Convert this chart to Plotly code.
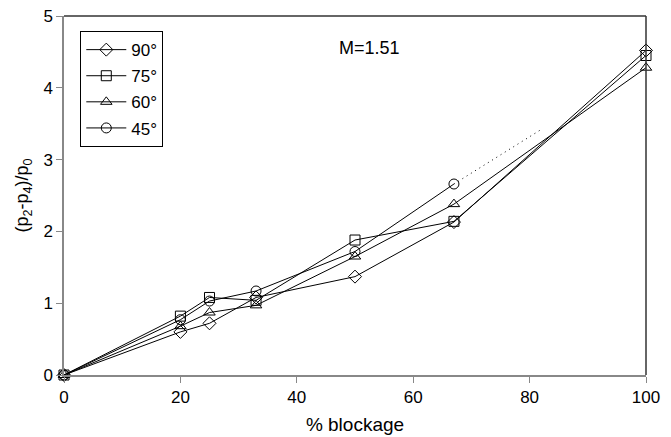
import plotly.graph_objects as go

blockage = [0, 20, 25, 33, 50, 67, 100]
s90 = [0, 0.60, 0.72, 1.08, 1.37, 2.13, 4.52]
s75 = [0, 0.82, 1.08, 1.04, 1.88, 2.14, 4.45]
s60 = [0, 0.68, 0.87, 0.97, 1.65, 2.38, 4.28]
blockage45 = [0, 20, 25, 33, 50, 67]
s45 = [0, 0.77, 1.03, 1.17, 1.72, 2.66]
trend_x = [67, 82]
trend_y = [2.66, 3.42]

labels = ["90°", "75°", "60°", "45°"]
symbols = ["diamond-open", "square-open", "triangle-up-open", "circle-open"]

fig = go.Figure()
series = [(blockage, s90), (blockage, s75), (blockage, s60), (blockage45, s45)]
for (xs, ys), lab, sym in zip(series, labels, symbols):
    fig.add_trace(go.Scatter(
        x=xs, y=ys, name=lab, mode="lines+markers", legendgroup=lab,
        line=dict(color="black", width=1),
        marker=dict(symbol=sym, size=10, color="black", line=dict(width=1)),
        cliponaxis=False,
    ))

fig.add_trace(go.Scatter(
    x=trend_x, y=trend_y, mode="lines", showlegend=False,
    line=dict(color="black", width=1, dash="1px,4px"),
))

fig.add_annotation(x=0.525, y=0.911, xref="paper", yref="paper",
                   xanchor="center", yanchor="middle",
                   text="M=1.51", showarrow=False,
                   font=dict(size=18, color="black"))

# frame top/right
fig.add_shape(type="line", xref="paper", yref="paper", x0=0, x1=1, y0=1, y1=1,
              line=dict(color="#333", width=1.5))
fig.add_shape(type="line", xref="paper", yref="paper", x0=1, x1=1, y0=0, y1=1,
              line=dict(color="#333", width=1.5))

fig.update_layout(
    width=671, height=437,
    margin=dict(l=64, r=25, t=16, b=62, autoexpand=False),
    plot_bgcolor="white", paper_bgcolor="white",
    font=dict(family="Liberation Sans, Arial, sans-serif", size=17, color="black"),
    legend=dict(x=0.028, y=0.958, xanchor="left", yanchor="top",
                bordercolor="black", borderwidth=1, bgcolor="white",
                font=dict(size=17), traceorder="grouped", tracegroupgap=1,
                itemwidth=40),
    xaxis=dict(range=[0, 100], tickvals=[0, 20, 40, 60, 80, 100],
               showgrid=False, zeroline=False, showline=True, automargin=False,
               linecolor="#888", linewidth=1.5, ticks="outside", ticklen=6,
               tickcolor="#888", tickfont=dict(size=17),
               title=dict(text="% blockage", font=dict(size=19), standoff=12)),
    yaxis=dict(range=[0, 5], tickvals=[0, 1, 2, 3, 4, 5],
               showgrid=False, zeroline=False, showline=True, automargin=False,
               linecolor="#888", linewidth=1.5, ticks="outside", ticklen=6,
               tickcolor="#888", tickfont=dict(size=17),
               title=dict(text="(p<sub>2</sub>-p<sub>4</sub>)/p<sub>0</sub>", font=dict(size=18), standoff=10)),
)

fig.write_html("out.html", config={"displayModeBar": False},
               post_script="document.body.style.margin='0';")
